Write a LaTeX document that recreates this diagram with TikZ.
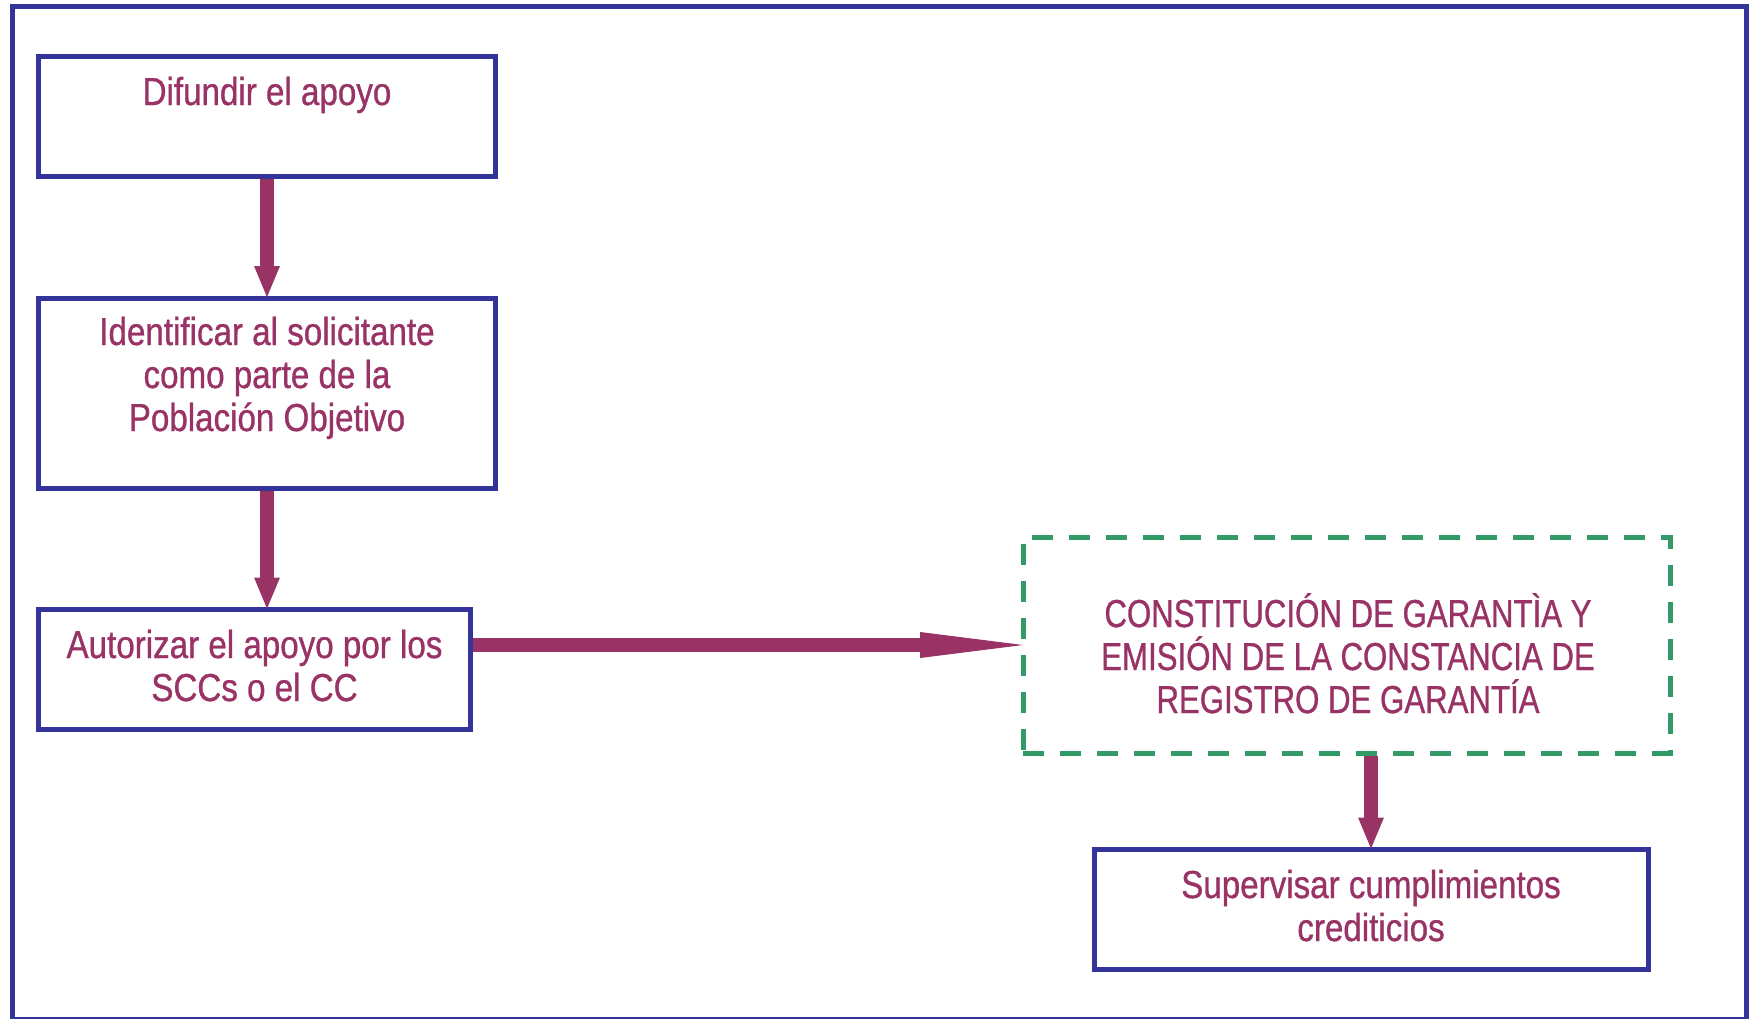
\documentclass[tikz,border=0pt]{standalone}
\usepackage{fontspec}
\setmainfont[FakeStretch=0.85,FakeBold=0.8]{Liberation Sans}
\newfontfamily\capsfont[FakeStretch=0.80,FakeBold=0.8]{Liberation Sans}
\usetikzlibrary{arrows.meta}
\definecolor{frameblue}{HTML}{333399}
\definecolor{txtpurple}{HTML}{993366}
\definecolor{dashgreen}{HTML}{339966}
\newcommand\mlines[1]{\parbox[t]{700pt}{\centering\lineskiplimit=-100pt\relax #1}}
\begin{document}
\begin{tikzpicture}[x=1pt,y=-1pt,
  box/.style={draw=frameblue,line width=5pt,rectangle,inner sep=0pt},
  dbox/.style={draw=dashgreen,line width=5pt,dash pattern=on 21pt off 16pt,rectangle,inner sep=0pt},
  lbl/.style={text=txtpurple,font=\fontsize{39}{43}\selectfont,inner sep=0pt,anchor=base},
  flow/.style={draw=txtpurple,line width=14pt,shorten >=-1.5pt,-{Triangle[length=31pt,width=26pt,line width=0pt]}},
  hflow/.style={draw=txtpurple,line width=14pt,shorten >=-2.5pt,-{Triangle[length=103pt,width=26pt,line width=0pt]}},
]
\useasboundingbox (0,0) rectangle (1752,1018);
\fill[white] (0,0) rectangle (1752,1018);
\draw[frameblue,line width=5pt] (12.5,6.5) rectangle (1746.5,1019.5);

\node[box,minimum width=457pt,minimum height=120pt] (b1) at (267,116.5) {};
\node[box,minimum width=457pt,minimum height=190pt] (b2) at (267,393) {};
\node[box,minimum width=432pt,minimum height=120pt] (b3) at (254.5,669.5) {};
\node[dbox,minimum width=647pt,minimum height=216pt] (d) at (1346.5,645) {};
\node[box,minimum width=554pt,minimum height=119.5pt] (b5) at (1371,909.25) {};

\node[lbl] (t1) at (267,105) {Difundir el apoyo};
\node[lbl] (t2) at (267,345) {\mlines{Identificar al solicitante\\como parte de la\\Población Objetivo}};
\node[lbl] (t3) at (254.5,658) {\mlines{Autorizar el apoyo por los\\SCCs o el CC}};
\node[lbl] (t4) at (1348,627) {\capsfont\mlines{CONSTITUCIÓN DE GARANTÌA Y\\EMISIÓN DE LA CONSTANCIA DE\\REGISTRO DE GARANTÍA}};
\node[lbl] (t5) at (1371,898) {\mlines{Supervisar cumplimientos\\crediticios}};

\draw[flow] (b1) -- (b2);
\draw[flow] (b2.south) -- (b2.south |- b3.north);
\draw[hflow] (b3.east |- d.west) -- (d.west);
\draw[flow] (d.south -| b5.north) -- (b5.north);
\end{tikzpicture}
\end{document}
